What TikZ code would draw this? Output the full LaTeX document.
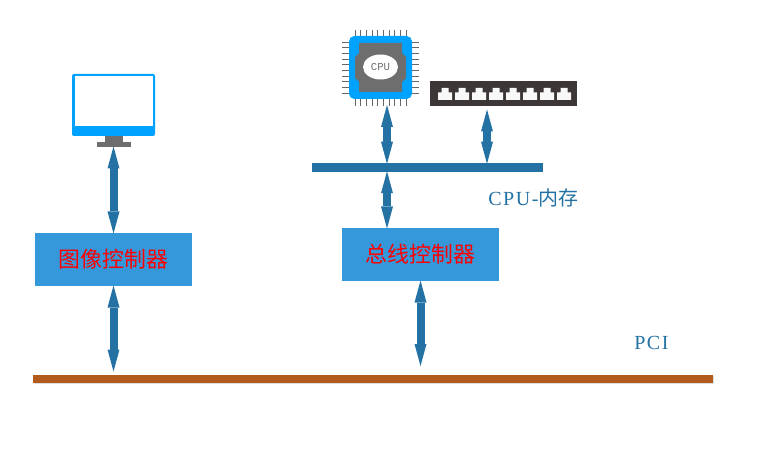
\documentclass[tikz,border=0pt]{standalone}
\usepackage{xcolor}
\usepackage{fontspec}
\setmainfont{Liberation Serif}
\setmonofont{Liberation Mono}
\newfontfamily\cjk{Noto Sans CJK SC}
\newfontfamily\latinwide[LetterSpace=8]{Liberation Serif}
\usepackage{tikz}
\usetikzlibrary{arrows.meta,positioning,shapes.geometric,shadows}
\definecolor{boxblue}{HTML}{3498DB}
\definecolor{linkblue}{HTML}{2471A3}
\definecolor{screenblue}{HTML}{00A2FF}
\definecolor{rust}{HTML}{B35A1F}
\definecolor{chipgrey}{HTML}{6E6E6E}
\definecolor{pingrey}{HTML}{666666}
\definecolor{switchdark}{HTML}{3C3636}
\definecolor{portwhite}{HTML}{F8F8F8}
\newcommand{\px}{0.75pt}
\tikzset{
  solid/.style={rectangle, inner sep=0pt, outer sep=0pt, draw=none},
  ctrlbox/.style={solid, fill=boxblue, minimum width=157*\px, minimum height=53*\px,
              text=red, font=\cjk\fontsize{16.4}{18}\selectfont},
  busbar/.style={solid, fill=linkblue, minimum height=8.5*\px},
  buslbl/.style={inner sep=0pt, text=linkblue, font=\latinwide\fontsize{15}{18}\selectfont},
  duplex/.style={{Triangle[length=22*\px, width=12*\px, line width=0pt]}-{Triangle[length=22*\px, width=12*\px, line width=0pt]},
              draw=linkblue, line width=8*\px, shorten <=-0.5*\px, shorten >=-0.5*\px},
  pin/.style={draw=pingrey, line width=0.8*\px}
}
\begin{document}
\begin{tikzpicture}[x=\px, y=-\px]
  \useasboundingbox (0,0) rectangle (777,452);
  % monitor
  \node[solid, fill=screenblue, rounded corners=1.5pt, minimum width=83*\px, minimum height=62*\px] (monitor) at (113.5,105) {};
  \node[solid, fill=white, minimum width=78*\px, minimum height=50*\px] (screen) at (113.5,101) {};
  \node[solid, fill=chipgrey, minimum width=18*\px, minimum height=6*\px, below=0pt of monitor] (neck) {};
  \node[solid, fill=chipgrey, minimum width=34*\px, minimum height=5*\px, below=0pt of neck] (stand) {};
  % cpu
  \foreach \i in {0,...,9} {
    \draw[pin] (355+5.67*\i,30) -- (355+5.67*\i,106);
    \draw[pin] (342,42+5.67*\i) -- (419,42+5.67*\i);
  }
  \node[solid, fill=screenblue, rounded corners=4pt, minimum width=63*\px, minimum height=63*\px] (chip) at (380.5,67.5) {};
  \fill[chipgrey] (359,43) -- (402,43) -- (402,53) -- (406,57) -- (406,78) -- (402,82) -- (402,92)
    -- (359,92) -- (359,82) -- (355,78) -- (355,57) -- (359,53) -- cycle;
  \node[ellipse, fill=white, inner sep=0pt, minimum width=35*\px, minimum height=25*\px, text=chipgrey,
    font=\ttfamily\fontsize{8}{9}\selectfont] (cpu) at (380.5,67) {CPU};
  % switch
  \node[solid, fill=switchdark, minimum width=147*\px, minimum height=25*\px] (switch) at (503.5,93.5) {};
  \foreach \i in {0,...,7} {
    \fill[portwhite] (438+17*\i,100) -- (438+17*\i,92.5) -- (441.5+17*\i,92.5) -- (441.5+17*\i,88)
      -- (448.5+17*\i,88) -- (448.5+17*\i,92.5) -- (452+17*\i,92.5) -- (452+17*\i,100) -- cycle;
  }
  % buses and controllers
  \node[busbar, minimum width=231*\px] (membus) at (427.5,167.5) {};
  \node[solid, fill=rust, minimum width=680*\px, minimum height=8*\px,
    drop shadow={shadow xshift=1pt, shadow yshift=-1pt, opacity=0.25}] (pci) at (373,379) {};
  \node[ctrlbox] (imgctrl) at (113.5,259.5) {图像控制器};
  \node[ctrlbox] (busctrl) at (420.5,254.5) {总线控制器};
  \node[buslbl, anchor=west] (memlbl) at (488,198) {CPU-{\cjk 内存}};
  \node[buslbl, anchor=west] (pcilbl) at (634,343) {PCI};
  % links
  \coordinate (chipout) at ([xshift=6.5*\px,yshift=-6.5*\px]chip.south);
  \coordinate (switchout) at ([xshift=-16.5*\px,yshift=-4*\px]switch.south);
  \draw[duplex] (stand.south) -- (imgctrl.north);
  \draw[duplex, shorten >=3.5*\px] (imgctrl.south) -- (imgctrl.south |- pci.north);
  \draw[duplex] (chipout) -- (chipout |- membus.north);
  \draw[duplex] (switchout) -- (switchout |- membus.north);
  \draw[duplex] (chipout |- membus.south) -- (chipout |- busctrl.north);
  \draw[duplex, shorten >=9*\px] (busctrl.south) -- (busctrl.south |- pci.north);
\end{tikzpicture}
\end{document}
